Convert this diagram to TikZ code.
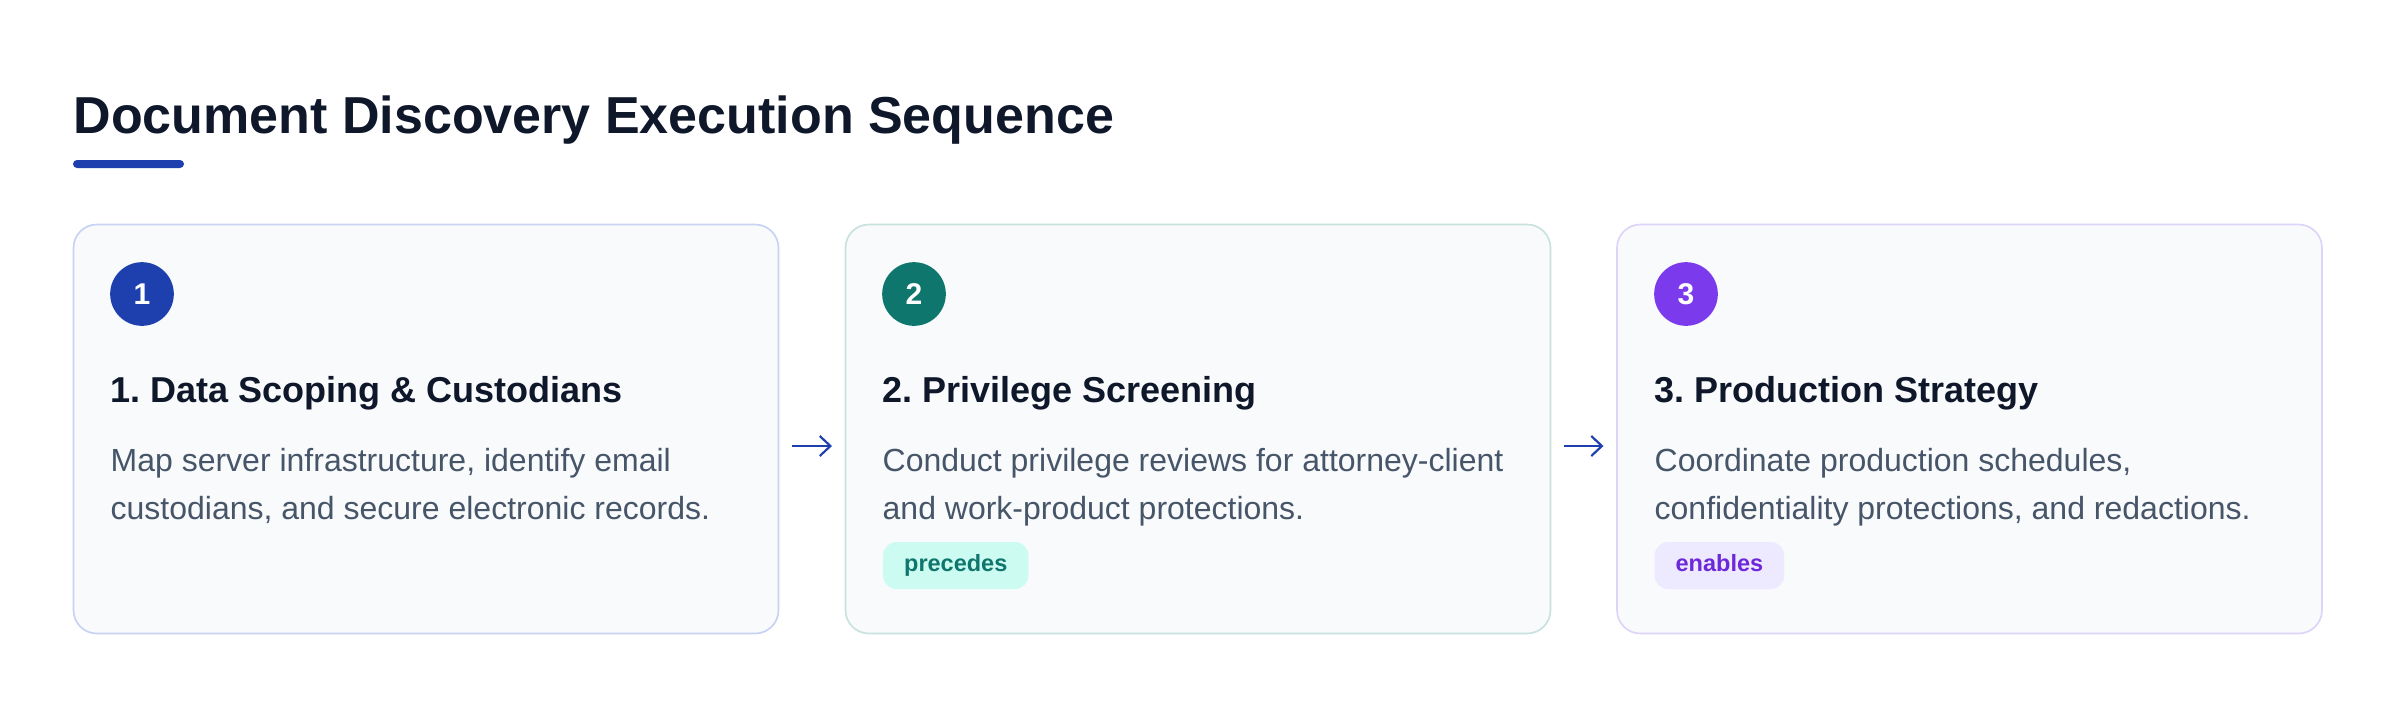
\documentclass[tikz,border=0pt]{standalone}
\usepackage{fontspec}
\setmainfont{Liberation Sans}
\frenchspacing
\usetikzlibrary{arrows.meta, positioning}
\definecolor{inkdark}{HTML}{0F172A}
\definecolor{inkmuted}{HTML}{475569}
\definecolor{cardbg}{HTML}{F8FAFC}
\definecolor{stepblue}{HTML}{1E40AF}
\definecolor{stepteal}{HTML}{0F766E}
\definecolor{stepviolet}{HTML}{7C3AED}
\definecolor{edgeblue}{RGB}{200, 210, 242}
\definecolor{edgeteal}{RGB}{200, 226, 221}
\definecolor{edgeviolet}{RGB}{222, 212, 250}
\definecolor{tealsoft}{HTML}{CCFBF1}
\definecolor{violetsoft}{HTML}{EDE9FE}
\definecolor{violetdeep}{HTML}{6D28D9}

\begin{document}
\begin{tikzpicture}[x=0.3pt, y=-0.3pt,
  card/.style={draw=#1, fill=cardbg, line width=0.5pt, rounded corners=7pt,
    minimum width=211.5pt, minimum height=122.7pt, inner sep=0pt},
  badge/.style={circle, fill=#1, text=white, minimum size=19.1pt, inner sep=0pt,
    font=\fontsize{9}{9}\selectfont\bfseries},
  steptitle/.style={anchor=base west, inner sep=0pt, text=inkdark,
    font=\fontsize{10.8}{13}\selectfont\bfseries},
  stepdesc/.style={anchor=north west, inner sep=0pt, align=left, text=inkmuted,
    font=\fontsize{9.6}{14.3}\selectfont},
  tag/.style 2 args={anchor=west, fill=#1, text=#2, rounded corners=4pt,
    inner xsep=6.3pt, inner ysep=0pt, minimum height=14.1pt,
    text height=5.1pt, text depth=1.4pt, font=\fontsize{7.05}{8}\selectfont\bfseries},
  flow/.style={-{Straight Barb[length=3.2pt, width=6pt]}, draw=stepblue, line width=0.65pt,
    shorten <=3.8pt, shorten >=3.8pt}
]
  \useasboundingbox[fill=white] (0,0) rectangle (2400,708);

  % heading
  \node[anchor=base west, inner sep=0pt, text=inkdark, font=\fontsize{15.6}{18}\selectfont\bfseries]
    (heading) at (73,133) {Document Discovery Execution Sequence};
  \fill[stepblue, rounded corners=1.2pt] (73,160) rectangle (184,168);

  % cards
  \node[card=edgeblue] (c1) at (426,429) {};
  \node[card=edgeteal] (c2) at (1198,429) {};
  \node[card=edgeviolet] (c3) at (1969.5,429) {};

  % step 1
  \node[badge=stepblue] (b1) at (142,294) {1};
  \node[steptitle] (t1) at (110,402) {1. Data Scoping \& Custodians};
  \node[stepdesc] (d1) at (110,448) {Map server infrastructure, identify email\\custodians, and secure electronic records.};

  % step 2
  \node[badge=stepteal] (b2) at (914,294) {2};
  \node[steptitle] (t2) at (882,402) {2. Privilege Screening};
  \node[stepdesc] (d2) at (882,448) {Conduct privilege reviews for attorney-client\\and work-product protections.};
  \node[tag={tealsoft}{stepteal}] (g2) at (882.5,565.5) {precedes};

  % step 3
  \node[badge=stepviolet] (b3) at (1686,294) {3};
  \node[steptitle] (t3) at (1654,402) {3. Production Strategy};
  \node[stepdesc] (d3) at (1654,448) {Coordinate production schedules,\\confidentiality protections, and redactions.};
  \node[tag={violetsoft}{violetdeep}] (g3) at (1654,565.5) {enables};

  % sequence arrows
  \draw[flow] ([yshift=-5.1pt]c1.east) -- ([yshift=-5.1pt]c2.west);
  \draw[flow] ([yshift=-5.1pt]c2.east) -- ([yshift=-5.1pt]c3.west);
\end{tikzpicture}
\end{document}
